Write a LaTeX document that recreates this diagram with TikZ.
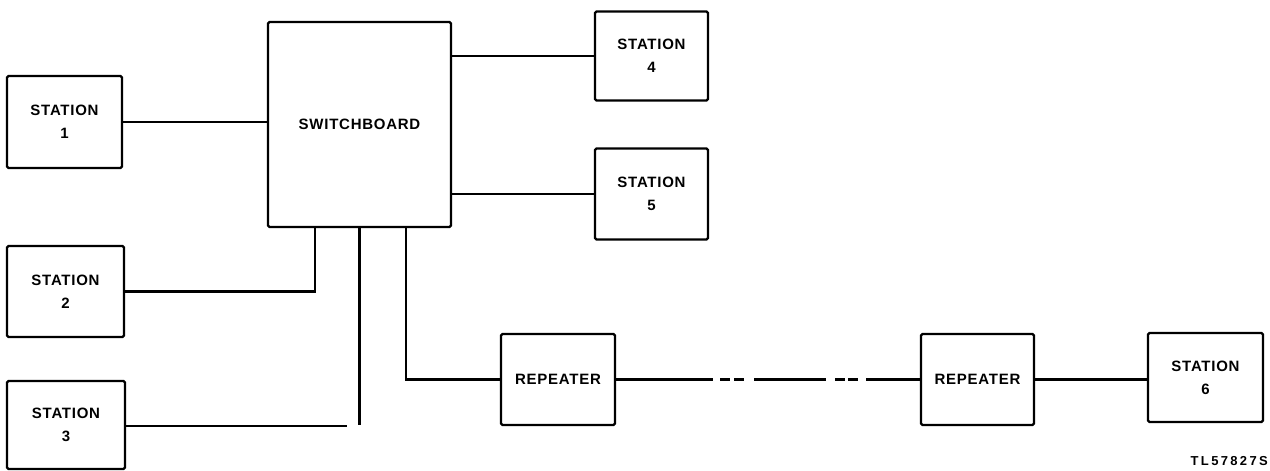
\documentclass[tikz,border=0pt]{standalone}
\usepackage{fontspec}
\setmainfont{Liberation Sans}[LetterSpace=5]
\newfontfamily\labfont{Liberation Sans}[LetterSpace=18]
\begin{document}
\begin{tikzpicture}[x=1pt,y=-1pt,
  box/.style={draw,line width=2.4pt,rounded corners=1.5pt,inner sep=0pt,align=center,
    font=\fontsize{15}{23}\selectfont\bfseries},
  wire/.style={line width=2.2pt}]
\useasboundingbox (0,0) rectangle (1270,471);
\node[box,minimum width=115,minimum height=92] (s1) at (64.5,122) {STATION\\1};
\node[box,minimum width=183,minimum height=205] (sw) at (359.5,124.5) {SWITCHBOARD};
\node[box,minimum width=113,minimum height=89] (s4) at (651.5,56) {STATION\\4};
\node[box,minimum width=113,minimum height=91] (s5) at (651.5,194) {STATION\\5};
\node[box,minimum width=117,minimum height=91] (s2) at (65.5,291.5) {STATION\\2};
\node[box,minimum width=118,minimum height=88] (s3) at (66,425) {STATION\\3};
\node[box,minimum width=114,minimum height=91] (r1) at (558,379.5) {REPEATER};
\node[box,minimum width=113,minimum height=91] (r2) at (977.5,379.5) {REPEATER};
\node[box,minimum width=115,minimum height=89] (s6) at (1205.5,377.5) {STATION\\6};
\node[anchor=east,inner sep=0pt,font=\labfont\fontsize{13}{13}\selectfont\bfseries] (lab) at (1268,461) {TL57827S};
\coordinate (c3) at (347,426);
\coordinate (c4) at (359.5,425);
\draw[wire] (s1.east) -- (s1.east -| sw.west);
\draw[wire] (s4.west -| sw.east) -- (s4.west);
\draw[wire] (s5.west -| sw.east) -- (s5.west);
\draw[wire] (s2.east) -| ([xshift=-44.5pt]sw.south);
\draw[wire] (s3.east) -- (c3 -| s3.east) -- (c3);
\draw[wire] (sw.south) -- (c4);
\draw[wire] ([xshift=46.5pt]sw.south) |- (r1.west);
\draw[wire,dash pattern=on 97pt off 7pt on 10pt off 4pt on 10pt off 10pt on 72pt off 9pt on 10pt off 3pt on 10pt off 8pt on 80pt] (r1.east) -- (r2.west);
\draw[wire] (r2.east) -- (r2.east -| s6.west);
\end{tikzpicture}
\end{document}
